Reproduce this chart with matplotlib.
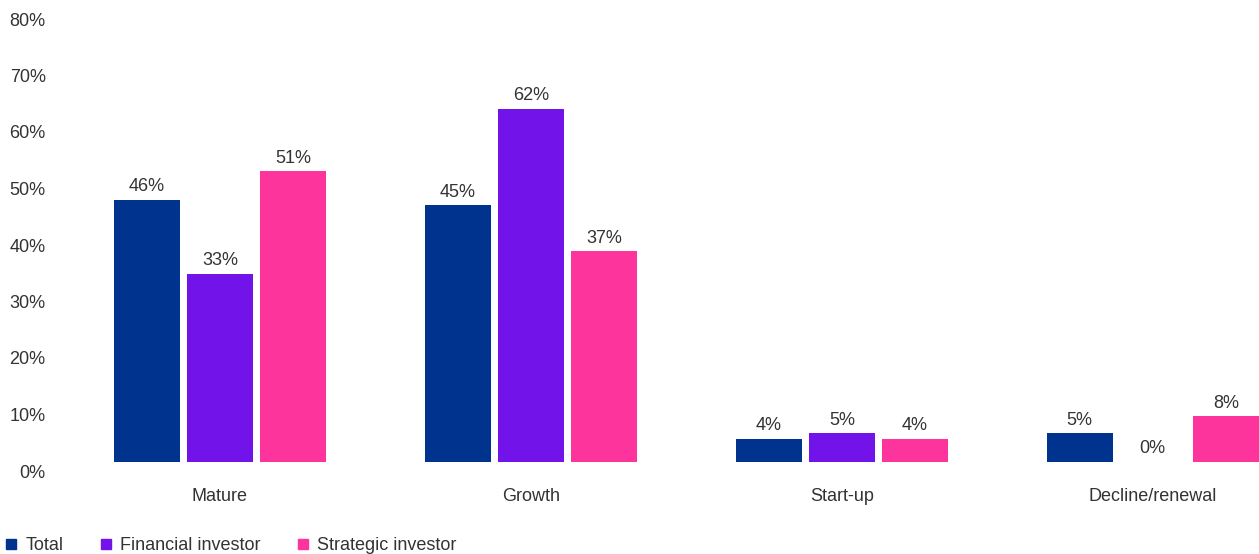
import matplotlib.pyplot as plt
import matplotlib.transforms as mtransforms
from matplotlib.patches import Patch
import numpy as np

plt.rcParams['font.family'] = ['Liberation Sans', 'DejaVu Sans']

# data
stages = ["Mature", "Growth", "Start-up", "Decline/renewal"]
series_names = ["Total", "Financial investor", "Strategic investor"]
total = [46.4, 45.4, 4.1, 5.1]
financial = [33.3, 62.5, 5.1, 0.0]
strategic = [51.5, 37.3, 4.1, 8.1]
value_labels = [
    ["46%", "45%", "4%", "5%"],
    ["33%", "62%", "5%", "0%"],
    ["51%", "37%", "4%", "8%"],
]
colors = ["#00338D", "#7213EA", "#FD349C"]
text_col = "#333333"
fs = 13

fig = plt.figure(figsize=(12.59, 5.54), dpi=100)
ax = fig.add_axes([64.5 / 1259, 92 / 554, (1259 - 64.5) / 1259, 452 / 554])

x = np.arange(len(stages))
width = 0.212
step = 0.235
all_series = [total, financial, strategic]
for i, vals in enumerate(all_series):
    pos = x + (i - 1) * step
    ax.bar(pos, vals, width=width, color=colors[i])
    for p, v, lab in zip(pos, vals, value_labels[i]):
        ax.text(p, v + 0.8, lab, ha="center", va="bottom", fontsize=fs, color=text_col)

ax.set_xlim(-0.5, 3.3415)
ax.set_ylim(0, 80)
ax.set_yticks(range(0, 81, 10))
ax.set_yticklabels([f"{t}%" for t in range(0, 81, 10)])
ax.set_xticks(x)
ax.set_xticklabels(stages)
ax.tick_params(axis="both", length=0, labelsize=fs, labelcolor=text_col)
ax.tick_params(axis="y", pad=13.5)
ax.tick_params(axis="x", pad=19)
offset = mtransforms.ScaledTranslation(0, -9 / 100, fig.dpi_scale_trans)
for lbl in ax.get_yticklabels():
    lbl.set_transform(lbl.get_transform() + offset)
for s in ax.spines.values():
    s.set_visible(False)

handles = [Patch(color=c) for c in colors]
fig.legend(handles, series_names, loc="lower left", bbox_to_anchor=(-0.008, -0.03),
           ncol=3, frameon=False, fontsize=fs, handlelength=0.55, handleheight=0.55,
           handletextpad=0.5, columnspacing=2.1, labelcolor=text_col)

fig.savefig("out.png", dpi=100)
